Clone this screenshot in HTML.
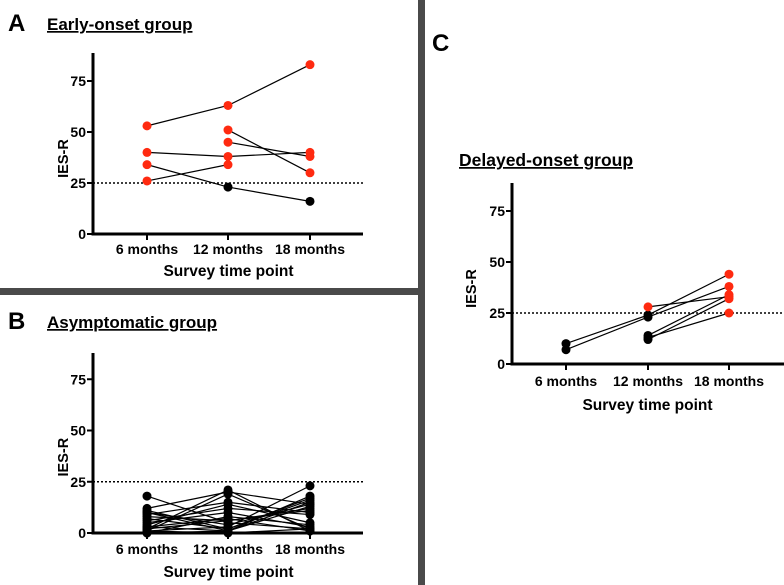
<!DOCTYPE html>
<html><head><meta charset="utf-8"><style>
body{margin:0;background:#fff}
svg{display:block;font-family:"Liberation Sans",Arial,sans-serif;font-weight:bold}
</style></head><body>
<svg id="fig" width="784" height="585" viewBox="0 0 784 585" xmlns="http://www.w3.org/2000/svg">
<rect x="0" y="0" width="784" height="585" fill="#fff"/>
<rect x="418" y="0" width="7" height="585" fill="#4a4a4a"/>
<rect x="0" y="288" width="420" height="7" fill="#4a4a4a"/>
<text x="8" y="31" font-size="24">A</text>
<text x="47" y="30" font-size="17" text-decoration="underline">Early-onset group</text>
<text x="8" y="329" font-size="24">B</text>
<text x="47" y="328" font-size="17" text-decoration="underline">Asymptomatic group</text>
<text x="432" y="51" font-size="24">C</text>
<text x="459" y="166" font-size="17.5" text-decoration="underline">Delayed-onset group</text>
</svg>
<script>
const categories=["6 months","12 months","18 months"];
const yTicks=[0,25,50,75];
const threshold=25;
const seriesA=[[53,63,83],[40,38,40],[26,34,null],[34,23,16],[null,51,30],[null,45,38]];
const seriesB=[[18,5,2],[12,20,14],[11,2,17],[10,1,13],[9,15,10],[8,6,12],[7,2,16],[5,10,3],[4,14,5],[3,1,15],[2,6,11],[1,19,2],[1,3,23],[0,8,4],[0,1,18],[2,21,1],[6,12,9],[10,4,14],[1,0,2],[3,7,1]];
const seriesC=[[10,24,44],[7,23,38],[null,28,33],[null,14,34],[null,12,32],[null,13,25]];
const svg=document.getElementById('fig');
const NS='http://www.w3.org/2000/svg';
function mk(t,a,p){const e=document.createElementNS(NS,t);for(const k in a)e.setAttribute(k,a[k]);p.appendChild(e);return e;}
function panel(id,ax,y0,ppu,xs,xEnd,yTop,tickY,titleY,labOff,data){
  const g=mk('g',{},svg);
  
  
  const y=v=>y0-v*ppu, x=i=>xs[i];
  const yax=mk('line',{x1:ax,y1:yTop,x2:ax,y2:y0,stroke:'#000','stroke-width':3},g);
  
  
  const xax=mk('line',{x1:ax-1.5,y1:y0,x2:xEnd,y2:y0,stroke:'#000','stroke-width':3},g);
  
  
  yTicks.forEach(v=>{
    mk('line',{x1:ax-6,y1:y(v),x2:ax,y2:y(v),stroke:'#000','stroke-width':2},g);
    const t=mk('text',{x:ax-7,y:y(v)+5,'font-size':14,'text-anchor':'end'},g);t.textContent=v;
    
    
  });
  categories.forEach((c,i)=>{
    mk('line',{x1:x(i),y1:y0,x2:x(i),y2:y0+6,stroke:'#000','stroke-width':2},g);
    const t=mk('text',{x:x(i),y:tickY,'font-size':14,'text-anchor':'middle'},g);t.textContent=c;
    
    
  });
  const xt=mk('text',{x:(xs[0]+xs[2])/2,y:titleY,'font-size':15.5,'text-anchor':'middle'},g);xt.textContent='Survey time point';
  
  
  const yt=mk('text',{x:0,y:0,'font-size':14.5,'text-anchor':'middle',transform:`translate(${ax-labOff},${y(37)}) rotate(-90)`},g);yt.textContent='IES-R';
  
  
  const th=mk('line',{x1:ax,y1:y(threshold),x2:xEnd,y2:y(threshold),stroke:'#000','stroke-width':1.5,'stroke-dasharray':'2,2'},g);
  
  
  data.forEach(s=>{
    for(let i=0;i<2;i++){if(s[i]!=null&&s[i+1]!=null){
      const l=mk('line',{x1:x(i),y1:y(s[i]),x2:x(i+1),y2:y(s[i+1]),stroke:'#000','stroke-width':1.2},g);
      
      
    }}
  });
  data.forEach(s=>{
    s.forEach((v,i)=>{if(v==null)return;
      const c=mk('circle',{cx:x(i),cy:y(v),r:4.5,fill:v>=threshold?'#ff2a10':'#000'},g);
      
      
    });
  });
}
panel('panel-a',93,234,2.04,[147,228,310],363,53,254,276,25,seriesA);
panel('panel-b',93,533,2.05,[147,228,310],363,353,554,577,25,seriesB);
panel('panel-c',512,364,2.04,[566,648,729],784,183,386,410,36,seriesC);
</script>
</body></html>
